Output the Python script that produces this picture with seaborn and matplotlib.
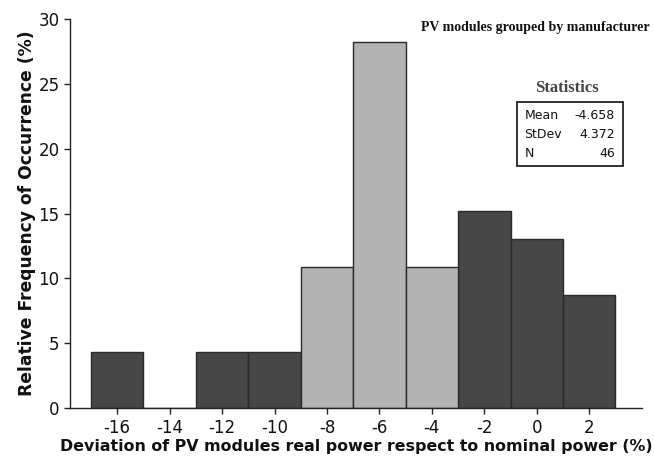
import numpy as np
import pandas as pd
import matplotlib
matplotlib.use("Agg")
import matplotlib.pyplot as plt
import seaborn as sns

# bin centres (%) and relative frequency (%)
bin_centers = [-16, -14, -12, -10, -8, -6, -4, -2, 0, 2]
rel_freq = [4.35, 0.0, 4.35, 4.35, 10.87, 28.26, 10.87, 15.22, 13.04, 8.70]
group = ["other", "other", "other", "other", "main", "main", "main",
         "other", "other", "other"]

x_ticks = [-16, -14, -12, -10, -8, -6, -4, -2, 0, 2]
y_ticks = [0, 5, 10, 15, 20, 25, 30]

stat_names = ["Mean", "StDev", "N"]
stat_values = ["-4.658", "4.372", "46"]

df = pd.DataFrame({"center": bin_centers, "freq": rel_freq, "group": group})

sns.set_style("white")
plt.rcParams["font.family"] = ["DejaVu Sans"]
plt.rcParams["text.color"] = "#111111"

fig = plt.figure(figsize=(6.54, 4.57), dpi=100)
ax = fig.add_axes([0.107, 0.107, 0.875, 0.851])

sns.barplot(data=df, x="center", y="freq", hue="group", native_scale=True,
            palette={"other": "#474747", "main": "#b3b3b3"}, dodge=False,
            width=1.0, edgecolor="#2a2a2a", linewidth=1.0, legend=False, ax=ax)

ax.set_xlim(-17.8, 4.02)
ax.set_ylim(0, 30)
ax.set_xticks(x_ticks)
ax.set_xticklabels([str(t) for t in x_ticks])
ax.set_yticks(y_ticks)
ax.tick_params(axis="both", labelsize=12, length=4, width=1, color="#222222",
               labelcolor="#111111", direction="out", bottom=True, left=True)
for side in ["top", "right"]:
    ax.spines[side].set_visible(False)
for side in ["left", "bottom"]:
    ax.spines[side].set_color("#222222")
    ax.spines[side].set_linewidth(1.0)

ax.set_xlabel("Deviation of PV modules real power respect to nominal power (%)",
              fontsize=11.4, fontweight="bold", labelpad=2, color="#111111")
ax.set_ylabel("Relative Frequency of Occurrence (%)", fontsize=12.3,
              fontweight="bold", labelpad=2, color="#111111")

fig.text(0.994, 0.939, "PV modules grouped by manufacturer", ha="right",
         va="center", fontsize=10, fontweight="bold", family="Liberation Serif")

# statistics box
fig.text(0.867, 0.807, "Statistics", ha="center", va="center", fontsize=12,
         fontweight="bold", family="Liberation Serif", color="#444444")
box = plt.Rectangle((0.7905, 0.637), 0.162, 0.140, transform=fig.transFigure,
                    fill=False, edgecolor="#222222", linewidth=1.3)
fig.add_artist(box)
for i, (n, v) in enumerate(zip(stat_names, stat_values)):
    yy = 0.748 - i * 0.0415
    fig.text(0.802, yy, n, ha="left", va="center", fontsize=9)
    fig.text(0.940, yy, v, ha="right", va="center", fontsize=9)

fig.savefig("out.png", dpi=100)
